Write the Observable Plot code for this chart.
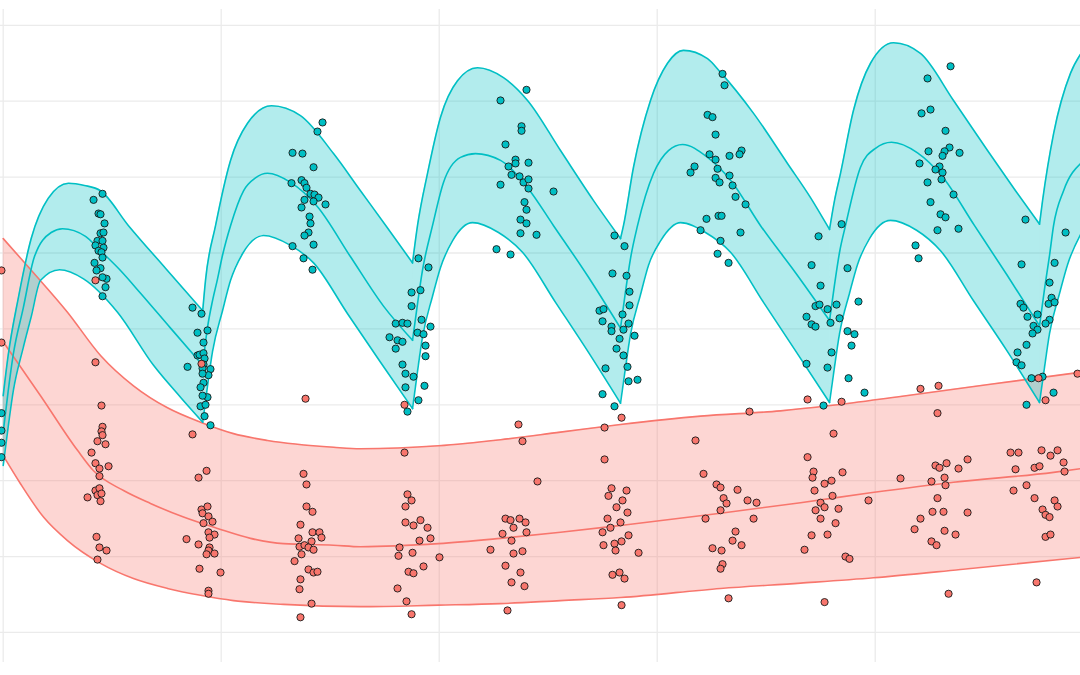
<!DOCTYPE html>
<html><head><meta charset="utf-8">
<script src="https://cdn.jsdelivr.net/npm/d3@7"></script>
<script src="https://cdn.jsdelivr.net/npm/@observablehq/plot@0.6"></script>
<style>html,body{margin:0;padding:0;background:#fff;overflow:hidden}</style>
</head><body><div id="chart"></div>
<script>
// grid breaks
const xTicks = [0, 25, 50, 75, 100];
const yTicks = [0, 1, 2, 3, 4, 5, 6, 7, 8];
// dose times (troughs)
const doseTimes = [0, 22.88, 46.94, 70.79, 94.76, 118.84];

// blue (teal) prediction band: upper / median / lower [time, value]
const blueUpper = [
[0,3.12],[0.57,3.65],[1.72,4.40],[3.21,5.19],[5.16,5.72],[7.49,5.92],[9.32,5.89],[11.16,5.82],[14.37,5.36],[18.61,4.80],[22.88,4.24],
[23.20,4.64],[24.35,5.36],[26.07,6.22],[28.02,6.71],[30.77,6.94],[34.09,6.81],[37.88,6.31],[40.97,5.82],[43.95,5.35],[46.94,4.87],
[47.51,5.36],[48.66,6.05],[50.15,6.79],[52.10,7.27],[54.39,7.44],[57.37,7.31],[60.13,7.01],[63.91,6.35],[67.70,5.69],[70.79,5.19],
[71.13,5.36],[72.28,6.13],[74.23,7.01],[76.18,7.50],[78.01,7.67],[80.77,7.56],[82.26,7.38],[86.05,6.84],[89.94,6.18],[92.58,5.73],[94.76,5.31],
[95.33,5.69],[96.02,6.05],[97.51,6.88],[99.46,7.50],[102.10,7.77],[105.19,7.63],[108.98,7.01],[112.88,6.35],[116.09,5.82],[118.84,5.38],
[119.19,5.69],[120.45,6.57],[122.40,7.37],[123.66,7.64]
];
const blueMid = [
[0,2.64],[0.57,3.18],[1.15,3.66],[2.29,4.27],[3.55,4.94],[5.50,5.27],[6.80,5.32],[9.44,5.22],[11.16,5.03],[13.45,4.77],[15.75,4.47],[19.19,4.01],[22.88,3.52],
[23.43,4.02],[24.00,4.37],[24.58,4.66],[25.15,4.97],[26.07,5.36],[27.56,5.82],[28.93,5.99],[30.31,6.05],[32.95,5.93],[36.04,5.61],[39.83,4.95],[43.61,4.30],[46.94,3.85],
[47.51,4.33],[48.08,4.77],[49.23,5.36],[50.49,5.93],[52.44,6.26],[54.16,6.31],[57.03,6.22],[60.13,5.86],[63.11,5.36],[67.01,4.70],[70.79,4.01],
[71.36,4.49],[71.94,4.93],[72.74,5.36],[74.58,6.05],[76.29,6.35],[77.90,6.43],[80.77,6.26],[83.41,5.96],[86.85,5.36],[90.86,4.74],[94.76,4.11],
[95.33,4.58],[95.91,5.01],[96.59,5.36],[98.31,6.13],[100.03,6.38],[101.87,6.46],[104.85,6.32],[107.60,6.02],[111.39,5.36],[115.17,4.70],[118.84,4.04],
[119.42,4.53],[119.99,4.97],[120.45,5.36],[121.60,5.82],[123.66,6.19]
];
const blueLower = [
[0,2.20],[0.57,2.71],[1.15,3.18],[2.29,3.75],[3.21,4.16],[4.28,4.64],[6.46,4.78],[9.21,4.66],[13.11,4.22],[17.24,3.52],[20.33,3.10],[22.88,2.77],
[23.43,3.25],[24.00,3.70],[25.15,4.24],[26.07,4.64],[27.44,4.99],[29.85,5.23],[32.95,5.10],[35.59,4.87],[39.49,4.20],[43.27,3.56],[46.94,2.95],
[47.51,3.44],[48.08,3.89],[49.23,4.43],[50.15,4.81],[51.52,5.16],[53.82,5.40],[56.80,5.27],[59.55,5.01],[63.34,4.35],[67.12,3.69],[70.79,3.02],
[71.36,3.49],[71.94,3.93],[73.08,4.45],[74.00,4.84],[75.38,5.16],[77.67,5.40],[80.54,5.27],[83.41,5.01],[87.19,4.35],[90.98,3.69],[94.76,3.03],
[95.33,3.50],[95.91,3.94],[97.05,4.47],[97.97,4.85],[99.34,5.19],[101.75,5.43],[104.74,5.30],[107.49,5.03],[111.27,4.37],[115.06,3.72],[118.84,3.03],
[119.42,3.50],[119.99,3.94],[121.14,4.47],[122.06,4.85],[123.66,5.27]
];

// red (salmon) prediction band
const redUpper = [
[0,5.19],[3.47,4.74],[7.37,4.22],[11.16,3.65],[14.94,3.25],[18.84,2.96],[22.63,2.77],[26.41,2.62],[30.31,2.53],[37.88,2.44],[40.97,2.42],
[49.92,2.46],[57.03,2.54],[63.91,2.64],[70.79,2.74],[79.97,2.85],[89.14,2.92],[94.87,2.99],[102.90,3.11],[113.22,3.27],[123.66,3.43]
];
const redMid = [
[0,3.83],[4.28,3.12],[8.52,2.40],[10.36,2.13],[13.80,1.87],[16.89,1.70],[20.68,1.52],[24.58,1.37],[28.36,1.24],[32.15,1.17],[37.88,1.15],[40.97,1.13],
[49.92,1.17],[57.03,1.24],[63.91,1.32],[70.79,1.41],[82.26,1.57],[91.43,1.71],[99.46,1.84],[108.98,1.98],[120.45,2.11],[123.66,2.16]
];
const redLower = [
[0,2.33],[1.98,1.96],[4.62,1.52],[7.37,1.21],[11.16,0.91],[14.94,0.71],[18.84,0.58],[22.63,0.49],[26.41,0.42],[32.15,0.37],[40.97,0.34],
[49.92,0.36],[57.03,0.38],[63.91,0.42],[70.79,0.46],[82.26,0.58],[91.43,0.65],[99.80,0.72],[109.78,0.83],[123.66,0.99]
];

// observations [time, value]
const bluePoints = [
[-0.2,2.89],[-0.2,2.66],[-0.2,2.50],[-0.2,2.31],
[11.39,5.78],[10.36,5.70],[10.93,5.52],[11.16,5.51],[11.62,5.39],[11.16,5.26],[11.50,5.27],[10.81,5.16],[11.39,5.16],[10.58,5.10],[11.50,5.07],[10.93,5.03],[11.27,5.01],[11.39,4.94],[10.47,4.87],[11.16,4.80],[10.70,4.77],[11.85,4.66],[11.39,4.68],[11.73,4.55],[11.39,4.43],
[21.71,4.28],[22.74,4.20],[22.28,3.95],[23.43,3.98],[22.97,3.82],[22.28,3.65],[22.51,3.66],[22.97,3.68],[23.09,3.61],[21.14,3.50],[22.97,3.53],[23.77,3.47],[22.86,3.48],[23.54,3.39],[22.86,3.41],[22.97,3.29],[22.63,3.23],[23.43,3.10],[22.86,3.12],[22.63,2.98],[23.20,3.00],[23.09,2.85],[23.77,2.73],
[33.18,6.32],[34.32,6.31],[36.04,6.60],[36.62,6.72],[35.59,6.13],[33.06,5.92],[34.21,5.96],[34.55,5.92],[34.78,5.86],[35.24,5.78],[35.70,5.77],[36.16,5.73],[34.55,5.70],[35.59,5.68],[36.96,5.64],[34.21,5.60],[35.13,5.48],[35.24,5.39],[35.01,5.27],[34.55,5.23],[35.59,5.11],[33.18,5.09],[34.44,4.93],[35.47,4.78],
[47.62,4.93],[48.77,4.81],[46.83,4.48],[47.85,4.51],[46.83,4.30],[47.97,4.12],[45.01,4.07],[45.79,4.08],[46.36,4.07],[49.00,4.03],[47.51,3.95],[48.20,3.93],[44.30,3.89],[45.22,3.85],[45.79,3.83],[48.43,3.78],[45.01,3.74],[48.43,3.64],[45.79,3.53],[46.13,3.41],[47.05,3.37],[46.13,3.23],[48.31,3.25],[47.62,3.06],[46.36,2.91],
[60.01,7.15],[57.03,7.01],[59.44,6.67],[59.44,6.61],[57.60,6.43],[58.75,6.23],[60.24,6.19],[57.95,6.14],[58.75,6.18],[58.29,6.03],[59.21,6.01],[59.67,5.93],[60.24,5.97],[60.24,5.85],[57.03,5.90],[63.11,5.81],[59.78,5.67],[60.01,5.57],[59.32,5.44],[60.01,5.39],[59.32,5.26],[61.16,5.24],[56.57,5.05],[58.18,4.98],
[70.10,5.23],[71.25,5.09],[69.87,4.73],[71.48,4.70],[71.82,4.49],[71.82,4.31],[68.38,4.24],[68.84,4.26],[68.73,4.10],[71.02,4.19],[69.76,4.03],[71.71,4.07],[71.13,3.99],[69.76,3.97],[70.68,3.87],[72.40,3.91],[70.33,3.74],[71.13,3.65],[71.59,3.50],[69.07,3.48],[71.71,3.31],[72.74,3.33],[68.73,3.14],[70.10,2.98],
[80.77,6.82],[81.34,6.79],[81.69,6.56],[81.00,6.30],[81.69,6.23],[79.28,6.14],[78.82,6.06],[81.92,6.11],[81.69,5.99],[82.15,5.93],[80.65,5.45],[82.03,5.49],[82.49,7.36],[82.72,7.21],[84.67,6.35],[84.44,6.30],[83.29,6.28],[83.29,6.02],[83.64,5.89],[83.98,5.74],[85.13,5.64],[82.38,5.49],[79.97,5.30],[82.26,5.16],[84.55,5.27],[81.92,4.99],[83.18,4.87],
[96.14,5.38],[93.50,5.22],[92.70,4.84],[96.82,4.80],[93.73,4.57],[98.08,4.36],[93.15,4.30],[93.61,4.32],[94.53,4.26],[95.56,4.32],[92.12,4.16],[95.91,4.14],[94.87,4.08],[92.70,4.06],[93.15,4.03],[96.82,3.97],[97.62,3.93],[97.28,3.78],[94.99,3.69],[92.12,3.54],[94.53,3.49],[96.94,3.35],[98.77,3.16],[94.07,2.99],
[108.64,7.46],[106.00,7.30],[105.31,6.84],[106.34,6.89],[108.06,6.61],[106.11,6.34],[108.52,6.39],[107.95,6.34],[109.67,6.32],[107.72,6.28],[105.08,6.18],[107.37,6.14],[106.91,6.10],[107.72,6.06],[107.60,5.97],[106.00,5.93],[108.98,5.77],[106.34,5.67],[107.49,5.51],[108.06,5.47],[107.14,5.30],[109.55,5.32],[104.62,5.10],[104.97,4.93],
[117.23,5.44],[121.83,5.27],[116.78,4.85],[120.57,4.87],[119.99,4.61],[120.22,4.41],[119.88,4.33],[120.57,4.35],[116.66,4.33],[117.00,4.28],[118.61,4.19],[117.46,4.16],[119.99,4.12],[119.53,4.07],[118.15,4.04],[118.61,3.99],[118.04,3.94],[117.35,3.79],[116.32,3.69],[116.20,3.56],[116.78,3.52],[117.92,3.35],[119.19,3.37],[117.35,3.00],[120.45,3.16]
];
const redPoints = [
[-0.2,4.77],[-0.2,3.82],
[10.58,4.64],[10.58,3.56],[11.27,2.99],[11.39,2.71],[11.27,2.65],[11.39,2.60],[10.81,2.52],[11.73,2.48],[10.13,2.37],[10.58,2.23],[11.04,2.16],[12.08,2.19],[11.04,2.06],[10.58,1.87],[11.04,1.90],[10.81,1.81],[11.27,1.83],[9.67,1.78],[11.16,1.73],[10.70,1.26],[11.04,1.12],[11.85,1.08],[10.81,0.96],
[22.74,3.54],[21.71,2.61],
[22.40,2.04],[23.32,2.13],[22.74,1.62],[23.43,1.66],[22.86,1.57],[23.54,1.53],[24.00,1.46],[22.97,1.44],[23.54,1.32],[24.23,1.29],[23.66,1.25],[21.02,1.23],[22.40,1.16],[23.66,1.12],[23.54,1.08],[23.32,1.03],[24.23,1.04],[22.51,0.84],[24.92,0.79],[23.54,0.55],[23.54,0.51],
[34.67,3.08],[34.44,2.09],[34.78,1.95],[34.78,1.66],[35.47,1.59],[34.09,1.42],[35.47,1.32],[36.27,1.32],[36.50,1.25],[33.87,1.24],[35.36,1.20],[33.98,1.13],[34.55,1.15],[35.01,1.12],[35.59,1.09],[34.21,1.03],[33.41,0.94],[35.01,0.83],[35.59,0.79],[36.04,0.80],[34.09,0.70],[33.98,0.57],[35.36,0.38],[34.09,0.20],
[46.02,3.00],
[46.02,2.37],[46.36,1.82],[46.83,1.74],[46.13,1.66],[47.85,1.48],[46.13,1.45],[47.05,1.41],[48.66,1.38],[49.00,1.24],[47.74,1.21],[45.45,1.12],[46.94,1.05],[45.33,1.01],[50.03,0.99],[48.20,0.87],[46.48,0.80],[47.05,0.78],[45.22,0.58],[46.25,0.41],[46.83,0.24],
[59.09,2.74],[59.55,2.52],[61.27,1.99],[57.60,1.50],[58.18,1.48],[59.21,1.50],[58.52,1.38],[59.90,1.45],[57.26,1.30],[60.01,1.32],[58.29,1.21],[55.88,1.09],[59.55,1.07],[58.52,1.04],[57.60,0.88],[59.32,0.79],[58.29,0.66],[59.78,0.61],[57.83,0.29],
[70.91,2.83],[68.96,2.70],[68.96,2.28],[69.76,1.90],[69.41,1.80],[71.48,1.87],[71.02,1.74],[70.33,1.65],[69.30,1.50],[71.59,1.58],[70.79,1.45],[69.64,1.38],[68.73,1.32],[71.71,1.28],[70.91,1.20],[70.10,1.17],[68.84,1.15],[70.22,1.08],[72.86,1.05],[70.68,0.79],[69.87,0.76],[71.25,0.71],[70.91,0.36],
[79.39,2.53],[85.58,2.91],[80.31,2.09],[81.80,1.95],[82.26,1.91],[82.61,1.77],[82.95,1.70],[84.21,1.88],[85.36,1.74],[86.39,1.71],[86.05,1.50],[80.54,1.50],[82.26,1.61],[83.98,1.33],[83.64,1.21],[84.67,1.15],[82.38,1.08],[81.34,1.11],[82.49,0.90],[82.26,0.84],[83.18,0.45],
[92.24,3.07],[96.14,3.04],
[95.22,2.62],[92.24,2.31],[92.93,2.12],[92.81,2.04],[94.99,2.00],[94.19,1.96],[96.25,2.11],[93.04,1.87],[95.10,1.80],[93.73,1.71],[94.19,1.65],[93.16,1.61],[95.79,1.63],[93.73,1.50],[95.45,1.44],[92.70,1.28],[94.53,1.29],[91.89,1.09],[96.59,1.00],[97.05,0.97],[94.19,0.40],[99.23,1.74],
[105.19,3.21],[107.26,3.25],[107.14,2.89],[106.45,1.99],[106.91,2.20],[107.37,2.17],[108.18,2.23],[109.55,2.16],[110.59,2.28],[107.95,2.04],[108.06,1.94],[107.14,1.77],[102.90,2.03],[106.57,1.59],[107.83,1.59],[110.59,1.58],[105.19,1.50],[104.51,1.36],[107.95,1.34],[109.21,1.29],[106.45,1.20],[107.03,1.15],[108.41,0.51],
[118.73,3.35],[119.53,3.06],[123.20,3.41],
[115.52,2.37],[116.43,2.37],[119.07,2.40],[120.10,2.33],[120.91,2.40],[116.09,2.15],[118.27,2.17],[118.84,2.19],[121.71,2.12],[121.60,2.24],[115.86,1.87],[117.35,1.94],[118.27,1.77],[120.57,1.74],[120.91,1.66],[119.19,1.62],[119.53,1.55],[119.99,1.52],[119.53,1.26],[120.10,1.29],[118.50,0.66]
];

const BLUE = "#00BFC4", RED = "#F8766D";

// split a curve into dosing-interval segments (trough points shared)
function segments(pts, breaks) {
  if (!breaks) return [pts];
  return breaks.map((d, i) => {
    const end = i + 1 < breaks.length ? breaks[i + 1] : Infinity;
    return pts.filter(p => p[0] >= d - 1e-9 && p[0] <= end + 1e-9);
  }).filter(s => s.length > 1);
}
function lineRows(pts, breaks) {
  return segments(pts, breaks).flatMap((s, k) => s.map(p => ({t: p[0], v: p[1], k})));
}
function ribbon(upper, lower, breaks, color) {
  const us = segments(upper, breaks), ls = segments(lower, breaks);
  return (index, scales) => {
    const line = d3.line().x(d => scales.x(d[0])).y(d => scales.y(d[1])).curve(d3.curveMonotoneX);
    const g = d3.create("svg:g");
    us.forEach((u, i) => {
      const l = ls[i];
      const d = line(u) + line(l.slice().reverse()).replace(/^M/, "L") + "Z";
      g.append("path").attr("d", d).attr("fill", color).attr("fill-opacity", 0.3).attr("stroke", "none");
    });
    return g.node();
  };
}

const ptsRows = [
  ...bluePoints.map(p => ({t: p[0], v: p[1], g: "b"})),
  ...redPoints.map(p => ({t: p[0], v: p[1], g: "r"}))
];

const lineOpts = {x: "t", y: "v", z: "k", curve: "monotone-x", strokeWidth: 1.6};

const chart = Plot.plot({
  width: 1080,
  height: 675,
  margin: 0,
  x: {domain: [-0.31, 123.54], axis: null},
  y: {domain: [-0.567, 8.327], axis: null},
  style: {background: "#fff"},
  marks: [
    Plot.ruleY(yTicks, {stroke: "#EBEBEB", strokeWidth: 1.3}),
    Plot.ruleX(xTicks, {y1: -0.395, y2: 8.208, stroke: "#EBEBEB", strokeWidth: 1.3}),
    ribbon(redUpper, redLower, null, RED),
    ribbon(blueUpper, blueLower, doseTimes, BLUE),
    Plot.line(lineRows(redUpper), {...lineOpts, stroke: RED}),
    Plot.line(lineRows(redMid), {...lineOpts, stroke: RED}),
    Plot.line(lineRows(redLower), {...lineOpts, stroke: RED}),
    Plot.line(lineRows(blueUpper, doseTimes), {...lineOpts, stroke: BLUE}),
    Plot.line(lineRows(blueMid, doseTimes), {...lineOpts, stroke: BLUE}),
    Plot.line(lineRows(blueLower, doseTimes), {...lineOpts, stroke: BLUE}),
    Plot.dot(ptsRows, {x: "t", y: "v", r: 3.6, fill: d => d.g === "b" ? BLUE : RED, stroke: "#1a1a1a", strokeWidth: 0.9})
  ]
});
document.getElementById("chart").appendChild(chart);
</script>
</body></html>
